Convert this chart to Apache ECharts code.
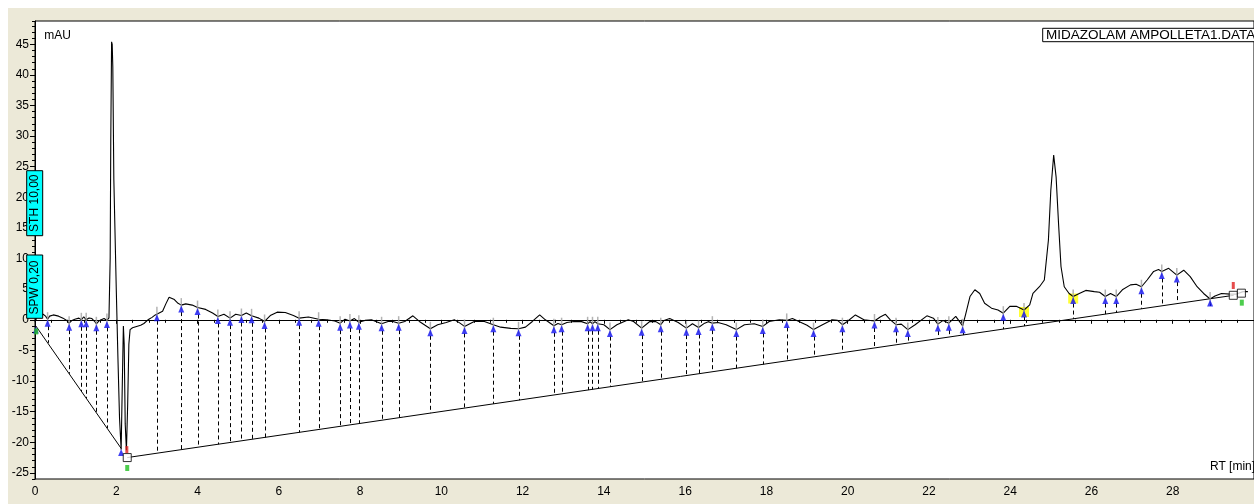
<!DOCTYPE html>
<html>
<head>
<meta charset="utf-8">
<script src="https://cdn.jsdelivr.net/npm/echarts@6/dist/echarts.min.js"></script>
<style>
  html, body { margin: 0; padding: 0; background: #fff; }
  #chart { position: absolute; left: 8px; top: 8px; width: 1246px; height: 496px; }
</style>
</head>
<body>
<div id="chart"></div>
<script>
// chromatogram trace, RT in min / signal in mAU
const traceRT = [
  0.00, 0.05, 0.12, 0.20, 0.26, 0.31, 0.36, 0.45, 0.58, 0.69, 0.78, 0.84, 0.91, 0.98, 1.08, 1.14, 1.20, 1.26,
  1.33, 1.40, 1.46, 1.51, 1.57, 1.63, 1.70, 1.77, 1.82, 1.85, 1.865, 1.885, 1.90, 1.915, 1.94, 1.97, 2.00,
  2.04, 2.08, 2.12, 2.15, 2.175, 2.195, 2.22, 2.25, 2.28, 2.31, 2.34, 2.40, 2.50, 2.60, 2.68, 2.78, 2.88,
  2.96, 3.00, 3.08, 3.14, 3.22, 3.30, 3.43, 3.52, 3.60, 3.71, 3.87, 4.00, 4.20, 4.37, 4.50, 4.65, 4.80,
  4.94, 5.08, 5.20, 5.33, 5.51, 5.65, 5.79, 5.96, 6.16, 6.36, 6.50, 6.73, 6.98, 7.18, 7.38, 7.51, 7.63,
  7.75, 7.86, 7.97, 8.12, 8.28, 8.53, 8.69, 8.81, 8.95, 9.10, 9.30, 9.46, 9.60, 9.73, 9.91, 10.12, 10.32,
  10.45, 10.57, 10.81, 11.06, 11.28, 11.46, 11.71, 11.90, 12.07, 12.24, 12.42, 12.56, 12.77, 12.87, 12.96,
  13.09, 13.26, 13.45, 13.60, 13.66, 13.72, 13.78, 13.85, 14.00, 14.15, 14.32, 14.60, 14.73, 14.93, 15.13,
  15.28, 15.40, 15.48, 15.62, 15.83, 16.03, 16.18, 16.33, 16.48, 16.57, 16.67, 16.81, 17.01, 17.26, 17.46,
  17.70, 17.91, 18.07, 18.32, 18.50, 18.64, 18.80, 19.00, 19.16, 19.38, 19.62, 19.75, 19.87, 19.99, 20.19,
  20.40, 20.66, 20.80, 20.93, 21.05, 21.19, 21.32, 21.48, 21.66, 21.95, 22.11, 22.22, 22.35, 22.49, 22.66,
  22.83, 22.90, 23.01, 23.13, 23.25, 23.37, 23.54, 23.70, 23.83, 23.99, 24.15, 24.34, 24.48, 24.56, 24.72,
  24.84, 24.94, 25.00, 25.07, 25.13, 25.19, 25.25, 25.33, 25.45, 25.55, 25.70, 25.86, 26.07, 26.20, 26.34,
  26.47, 26.61, 26.76, 26.96, 27.10, 27.23, 27.37, 27.53, 27.65, 27.73, 27.90, 28.10, 28.27, 28.43, 28.60,
  28.76, 28.92, 29.04, 29.20, 29.41, 29.57, 29.73, 29.85
];
const traceAU = [
  -0.4, 0.5, 0.9, 0.9, 0.6, 0.1, 0.6, 0.8, 0.6, 0.27, -0.1, -0.55, -0.1, 0.1, 0.27, 0.0, 0.5, 0.0,
  0.3, 0.2, -0.2, -0.65, -0.2, 0.0, 0.2, -0.1, 0.3, 10, 29.5, 45.4, 45, 41.3, 23, 14, 5,
  -6, -16, -21.2, -10, -1.0, -4, -17, -21.3, -14, -4, -1.6, -1.3, -1.1, -0.9, -0.6, 0.0, 0.4,
  0.8, 1.0, 1.2, 1.4, 2.6, 3.7, 3.3, 2.7, 2.4, 2.6, 2.4, 2.0, 1.7, 1.1, 0.55, 0.9, 0.27,
  0.9, 0.7, 1.1, 0.65, 0.27, -0.27, 0.7, 1.25, 1.2, 0.7, 0.27, 0.45, 0.1, 0.0, -0.2, -0.55, 0.1,
  -0.2, 0.2, -0.4, -0.1, 0.0, -0.65, -0.27, -0.27, -0.55, -0.27, 0.65, -0.27, -0.9, -1.47, -0.8, -0.45, 0.0,
  -0.5, -1.08, -0.27, -0.27, -0.8, -1.2, -1.4, -1.47, -1.2, -0.27, 0.8, 0.0, -0.98, -0.6, -0.8,
  -0.45, -0.27, -0.3, -0.65, -0.3, -0.65, -0.3, -0.65, -0.8, -1.6, -0.8, 0.0, -0.27, -1.36, -0.27,
  -0.3, -0.8, -0.1, 0.2, -0.45, -1.36, -0.65, -1.25, -0.55, -0.3, -0.55, -0.45, -0.8, -1.6, -0.8,
  -0.65, -1.08, -0.27, 0.0, -0.1, 0.2, -0.27, -0.9, -1.6, -0.8, 0.0, -0.1, -0.8, -0.27, 0.8,
  0.0, -0.2, 0.45, 0.9, 0.0, -0.8, -0.7, -1.6, -0.8, 0.65, 0.27, -0.7, -0.1, -0.55, 0.55,
  -0.98, 0.8, 3.8, 4.9, 4.3, 2.7, 1.9, 1.6, 1.08, 2.2, 2.2, 1.6, 2.44, 4.3, 5.4,
  6.5, 13, 21.2, 26.9, 23.3, 15.7, 8.7, 5.4, 4.3, 3.8, 4.3, 4.8, 4.6, 4.5, 3.8,
  4.3, 3.8, 4.9, 5.7, 5.8, 5.4, 6.5, 7.9, 8.2, 7.9, 8.4, 7.3, 8.1, 7.05, 5.4,
  4.3, 3.4, 3.9, 4.3, 4.2, 4.2, 4.6, 4.6
];

// integration valleys (peak boundaries) on the trace
const valleyRT = [
  0.31, 0.84, 1.14, 1.26, 1.51, 1.77,
  3.00, 3.60, 4.00, 4.50, 4.80, 5.08, 5.33, 5.65, 6.50, 6.98, 7.51, 7.75, 7.97, 8.53, 8.95, 9.73,
  10.57, 11.28, 11.90, 12.77, 12.96, 13.60, 13.72, 13.85, 14.15, 14.93, 15.40, 16.03, 16.33, 16.67,
  17.26, 17.91, 18.50, 19.16, 19.87, 20.66, 21.19, 21.48, 22.22, 22.49, 22.83, 23.83, 24.34, 25.55,
  26.34, 26.61, 27.23, 27.73, 28.10, 28.92
];
const valleyAU = [
  0.1, -0.55, 0.0, 0.0, -0.65, -0.1,
  1.0, 2.4, 2.0, 0.55, 0.27, 0.7, 0.65, -0.27, 0.27, 0.1, -0.55, -0.2, -0.4, -0.65, -0.55, -1.47,
  -1.08, -0.8, -1.47, -0.98, -0.8, -0.65, -0.65, -0.65, -1.6, -1.36, -0.8, -1.36, -1.25, -0.55,
  -1.6, -1.08, -0.1, -1.6, -0.8, -0.2, -0.8, -1.6, -0.7, -0.55, -0.98, 1.08, 1.6, 3.8,
  3.8, 3.8, 5.4, 7.9, 7.3, 3.4
];
const highlightRT = [24.34, 25.55];
const highlightAU = [1.6, 3.8];

// baselines: [start, end] as [RT, mAU]
const baseline1 = [[0.02, -1.0], [2.12, -21.0]];
const baseline2 = [[2.27, -22.5], [29.5, 4.0]];

// baseline event marks
const startRT = [0.02, 2.12];
const startAU = [-1.0, -21.0];
const boxRT = [2.27, 29.49, 29.69];
const boxAU = [-22.5, 4.0, 4.35];
const redRT = [2.26, 29.49];
const redAU = [-21.2, 5.6];
const greenRT = [0.03, 2.27, 29.70];
const greenAU = [-1.9, -24.2, 2.8];

const xTicks = [0, 2, 4, 6, 8, 10, 12, 14, 16, 18, 20, 22, 24, 26, 28];
const yTicks = [-25, -20, -15, -10, -5, 0, 5, 10, 15, 20, 25, 30, 35, 40, 45];

const FONT = '"Liberation Sans", Arial, sans-serif';

function zip(a, b) { return a.map((v, i) => [v, b[i]]); }
function baseAt(t) {
  const seg = t < 2.2 ? baseline1 : baseline2;
  const k = (t - seg[0][0]) / (seg[1][0] - seg[0][0]);
  return seg[0][1] + k * (seg[1][1] - seg[0][1]);
}
const dropData = valleyRT.map((t, i) => [t, valleyAU[i], baseAt(t)]);

const chart = echarts.init(document.getElementById('chart'));
chart.setOption({
  animation: false,
  backgroundColor: '#ECE9D8',
  grid: {
    left: 27, top: 13, right: -7, bottom: 25,
    show: true, backgroundColor: '#fff', borderColor: '#000', borderWidth: 1
  },
  xAxis: {
    type: 'value', min: 0, max: 30, interval: 2,
    axisLine: { lineStyle: { color: '#000', width: 1 } },
    axisTick: { length: 4, lineStyle: { color: '#000' } },
    minorTick: { show: true, splitNumber: 5, length: 3, lineStyle: { color: '#000' } },
    splitLine: { show: false },
    axisLabel: { color: '#000', fontSize: 12, fontFamily: FONT, margin: 7, customValues: xTicks }
  },
  yAxis: [{
    type: 'value', min: -26, max: 48.8, position: 'left',
    axisLine: { show: true, lineStyle: { color: '#000', width: 1 } },
    axisTick: { show: true, length: 5, customValues: yTicks, lineStyle: { color: '#000' } },
    splitLine: { show: false },
    axisLabel: { color: '#000', fontSize: 12, fontFamily: FONT, margin: 6, customValues: yTicks }
  }, {
    type: 'value', min: -26, max: 48.8, interval: 1, position: 'left',
    axisLine: { show: false },
    axisTick: { show: true, length: 3, lineStyle: { color: '#000' } },
    splitLine: { show: false },
    axisLabel: { show: false }
  }],
  graphic: [
    { type: 'rect', shape: { x: 18.7, y: 162.7, width: 16, height: 65 },
      style: { fill: '#00FFFF', stroke: '#000', lineWidth: 1 }, z: 100 },
    { type: 'text', x: 26.7, y: 195.2, rotation: Math.PI / 2, z: 101,
      style: { text: 'STH 10,00', font: '12px ' + FONT, fill: '#000', align: 'center', verticalAlign: 'middle' } },
    { type: 'rect', shape: { x: 18.7, y: 247, width: 16, height: 63.3 },
      style: { fill: '#00FFFF', stroke: '#000', lineWidth: 1 }, z: 100 },
    { type: 'text', x: 26.7, y: 279.5, rotation: Math.PI / 2, z: 101,
      style: { text: 'SPW 0,20', font: '12px ' + FONT, fill: '#000', align: 'center', verticalAlign: 'middle' } },
    { type: 'text', x: 36.3, y: 28, z: 101,
      style: { text: 'mAU', font: '12px ' + FONT, fill: '#000', verticalAlign: 'middle' } },
    { type: 'text', x: 1202, y: 459, z: 101,
      style: { text: 'RT [min]', font: '12px ' + FONT, fill: '#000', verticalAlign: 'middle' } },
    { type: 'rect', shape: { x: 1034.7, y: 20.3, width: 240, height: 13.4 },
      style: { fill: '#fff', stroke: '#000', lineWidth: 1 }, z: 100 },
    { type: 'text', x: 1038, y: 27.3, z: 101,
      style: { text: 'MIDAZOLAM AMPOLLETA1.DATA', font: '13.5px ' + FONT, fill: '#000', verticalAlign: 'middle' } }
  ],
  series: [
    {
      type: 'line', data: baseline1, symbol: 'none', silent: true, z: 2,
      lineStyle: { color: '#000', width: 1 }
    },
    {
      type: 'line', data: baseline2, symbol: 'none', silent: true, z: 2,
      lineStyle: { color: '#000', width: 1 }
    },
    {
      type: 'custom', data: dropData, silent: true, z: 2,
      renderItem: function (params, api) {
        const a = api.coord([api.value(0), api.value(1)]);
        const b = api.coord([api.value(0), api.value(2)]);
        const x = Math.round(a[0]) + 0.5;
        return {
          type: 'line',
          shape: { x1: x, y1: a[1] + 7, x2: x, y2: b[1] },
          style: { stroke: '#000', lineWidth: 1, lineDash: [4, 3] }
        };
      }
    },
    {
      type: 'scatter', data: zip(highlightRT, highlightAU), symbol: 'rect', symbolSize: [10, 10],
      symbolOffset: [0, 2], itemStyle: { color: '#FFFF00' }, silent: true, z: 3
    },
    {
      type: 'line', data: zip(traceRT, traceAU), symbol: 'none', silent: true, z: 4,
      lineStyle: { color: '#000', width: 1.1 }
    },
    {
      type: 'scatter', data: zip(valleyRT, valleyAU), symbol: 'rect', symbolSize: [1.5, 12],
      symbolOffset: [0, -1], itemStyle: { color: '#a0a0a0' }, silent: true, z: 5
    },
    {
      type: 'scatter', data: zip(valleyRT, valleyAU).concat(zip(startRT, startAU)), symbol: 'triangle',
      symbolSize: [6, 7], symbolOffset: [0, 4], itemStyle: { color: '#1010F0' }, silent: true, z: 6
    },
    {
      type: 'scatter', data: zip(redRT, redAU), symbol: 'rect', symbolSize: [3, 7],
      itemStyle: { color: '#E02020' }, silent: true, z: 6
    },
    {
      type: 'scatter', data: zip(greenRT, greenAU), symbol: 'rect', symbolSize: [4, 6],
      itemStyle: { color: '#20C020' }, silent: true, z: 6
    },
    {
      type: 'scatter', data: zip(boxRT, boxAU), symbol: 'rect', symbolSize: 8,
      itemStyle: { color: '#fff', borderColor: '#000', borderWidth: 1 }, silent: true, z: 7
    }
  ]
});
</script>
</body>
</html>
